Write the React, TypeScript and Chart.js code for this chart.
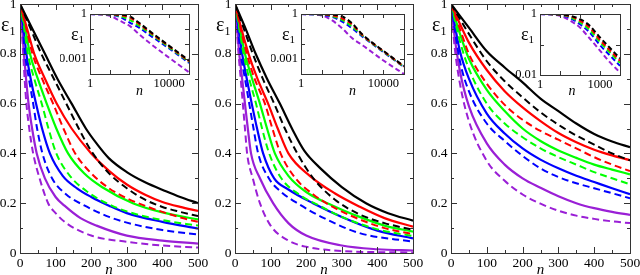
import React, { useEffect, useRef } from 'react';
import { Chart, registerables } from 'chart.js';

Chart.register(...registerables);

const SERIF = '"Liberation Serif", "DejaVu Serif", "Times New Roman", serif';

type Pt = [number, number];

// ---------- tick values ----------
const MAIN_X_TICKS = [0, 50, 100, 150, 200, 250, 300, 350, 400, 450, 500];
const MAIN_X_LABELLED = [0, 100, 200, 300, 400, 500];
const MAIN_Y_TICKS = [0, 0.1, 0.2, 0.3, 0.4, 0.5, 0.6, 0.7, 0.8, 0.9, 1];
const MAIN_Y_LABELLED = [0, 0.2, 0.4, 0.6, 0.8, 1];

const INSET_AB_X_TICKS = [1, 10, 100, 1000, 10000, 100000];
const INSET_AB_X_LABELLED = [1, 10000];
const INSET_AB_Y_TICKS = [0.0001, 0.001, 0.01, 0.1, 1];
const INSET_AB_Y_LABELLED = [0.001, 1];

const INSET_C_X_TICKS = [1, 10, 100, 1000, 10000];
const INSET_C_X_LABELLED = [1, 1000];
const INSET_C_Y_TICKS = [0.01, 0.1, 1];
const INSET_C_Y_LABELLED = [0.01, 1];

// ---------- panel 1 (main) ----------
const p1BlackSolid: Pt[] = [[0, 1], [35, 0.9], [70, 0.8], [105, 0.7], [145, 0.6], [185, 0.5], [215, 0.44], [250, 0.38], [300, 0.325], [350, 0.285], [410, 0.248], [450, 0.225], [500, 0.2]];
const p1BlackDashed: Pt[] = [[0, 1], [30, 0.9], [60, 0.8], [95, 0.7], [130, 0.6], [165, 0.5], [200, 0.41], [250, 0.32], [300, 0.26], [350, 0.215], [400, 0.185], [450, 0.165], [500, 0.148]];
const p1RedSolid: Pt[] = [[0, 1], [20, 0.9], [40, 0.8], [70, 0.7], [103, 0.6], [145, 0.5], [200, 0.4], [250, 0.33], [300, 0.275], [350, 0.235], [400, 0.205], [450, 0.185], [500, 0.169]];
const p1RedDashed: Pt[] = [[0, 1], [18, 0.9], [35, 0.8], [62, 0.7], [93, 0.6], [122, 0.5], [155, 0.4], [200, 0.32], [250, 0.26], [300, 0.22], [350, 0.19], [400, 0.165], [450, 0.143], [500, 0.125]];
const p1GreenSolid: Pt[] = [[0, 1], [15, 0.9], [28, 0.8], [50, 0.7], [75, 0.6], [102, 0.5], [135, 0.4], [180, 0.32], [230, 0.265], [317, 0.2], [400, 0.163], [500, 0.135]];
const p1GreenDashed: Pt[] = [[0, 1], [12, 0.9], [22, 0.8], [40, 0.7], [61, 0.6], [80, 0.5], [102, 0.4], [140, 0.31], [190, 0.245], [243, 0.2], [300, 0.167], [400, 0.132], [500, 0.11]];
const p1BlueSolid: Pt[] = [[0, 1], [10, 0.9], [18, 0.8], [30, 0.7], [45, 0.6], [62, 0.5], [84, 0.4], [120, 0.31], [160, 0.26], [200, 0.225], [250, 0.19], [300, 0.16], [400, 0.125], [500, 0.098]];
const p1BlueDashed: Pt[] = [[0, 1], [8, 0.9], [14, 0.8], [25, 0.7], [37, 0.6], [48, 0.5], [63, 0.4], [90, 0.3], [130, 0.235], [182, 0.19], [250, 0.145], [300, 0.122], [400, 0.092], [500, 0.074]];
const p1PurpleSolid: Pt[] = [[0, 1], [6, 0.9], [11, 0.8], [17, 0.7], [24, 0.6], [34, 0.5], [47, 0.4], [70, 0.3], [100, 0.225], [125, 0.19], [170, 0.14], [215, 0.11], [300, 0.07], [400, 0.05], [500, 0.038]];
const p1PurpleDashed: Pt[] = [[0, 1], [5, 0.9], [9, 0.8], [13, 0.7], [18, 0.6], [26, 0.5], [37, 0.4], [55, 0.3], [79, 0.2], [100, 0.16], [130, 0.12], [200, 0.07], [300, 0.045], [400, 0.03], [500, 0.022]];

// ---------- panel 2 (main) ----------
const p2BlackSolid: Pt[] = [[0, 1], [30, 0.9], [58, 0.8], [90, 0.7], [126, 0.6], [160, 0.5], [195, 0.41], [240, 0.34], [300, 0.265], [368, 0.2], [430, 0.16], [500, 0.13]];
const p2BlackDashed: Pt[] = [[0, 1], [25, 0.9], [50, 0.8], [78, 0.7], [110, 0.6], [140, 0.5], [175, 0.4], [220, 0.3], [280, 0.215], [350, 0.155], [420, 0.12], [500, 0.093]];
const p2RedSolid: Pt[] = [[0, 1], [18, 0.9], [38, 0.8], [63, 0.7], [93, 0.6], [120, 0.5], [150, 0.4], [210, 0.31], [280, 0.24], [350, 0.186], [420, 0.14], [500, 0.106]];
const p2RedDashed: Pt[] = [[0, 1], [16, 0.9], [33, 0.8], [55, 0.7], [84, 0.6], [105, 0.5], [128, 0.4], [170, 0.3], [220, 0.235], [275, 0.185], [350, 0.135], [420, 0.1], [500, 0.076]];
const p2GreenSolid: Pt[] = [[0, 1], [14, 0.9], [28, 0.8], [48, 0.7], [70, 0.6], [90, 0.5], [112, 0.4], [150, 0.31], [200, 0.245], [275, 0.19], [350, 0.145], [420, 0.11], [500, 0.086]];
const p2GreenDashed: Pt[] = [[0, 1], [12, 0.9], [24, 0.8], [40, 0.7], [59, 0.6], [76, 0.5], [96, 0.4], [130, 0.3], [180, 0.235], [237, 0.19], [300, 0.145], [400, 0.095], [500, 0.068]];
const p2BlueSolid: Pt[] = [[0, 1], [10, 0.9], [20, 0.8], [33, 0.7], [47, 0.6], [62, 0.5], [79, 0.4], [110, 0.3], [150, 0.255], [219, 0.2], [300, 0.145], [400, 0.09], [500, 0.059]];
const p2BlueDashed: Pt[] = [[0, 1], [8, 0.9], [16, 0.8], [28, 0.7], [40, 0.6], [52, 0.5], [65, 0.4], [95, 0.3], [130, 0.245], [181, 0.195], [250, 0.14], [350, 0.08], [500, 0.045]];
const p2PurpleSolid: Pt[] = [[0, 1], [6, 0.9], [12, 0.8], [20, 0.7], [28, 0.6], [36, 0.5], [45, 0.4], [70, 0.3], [107, 0.2], [150, 0.12], [200, 0.07], [300, 0.03], [400, 0.015], [500, 0.01]];
const p2PurpleDashed: Pt[] = [[0, 1], [5, 0.9], [10, 0.8], [16, 0.7], [22, 0.6], [28, 0.5], [34, 0.4], [50, 0.3], [70, 0.2], [100, 0.11], [150, 0.05], [200, 0.025], [300, 0.008], [500, 0.002]];

// ---------- panel 3 (main) ----------
const p3BlackSolid: Pt[] = [[0, 1], [50, 0.905], [100, 0.81], [150, 0.745], [200, 0.685], [250, 0.62], [300, 0.57], [350, 0.52], [400, 0.478], [450, 0.448], [500, 0.425]];
const p3BlackDashed: Pt[] = [[0, 1], [50, 0.88], [100, 0.77], [150, 0.69], [200, 0.625], [250, 0.565], [300, 0.515], [350, 0.472], [400, 0.435], [450, 0.4], [500, 0.372]];
const p3RedSolid: Pt[] = [[0, 1], [25, 0.92], [50, 0.845], [100, 0.735], [150, 0.65], [200, 0.585], [250, 0.53], [300, 0.482], [350, 0.445], [400, 0.415], [450, 0.392], [500, 0.373]];
const p3RedDashed: Pt[] = [[0, 1], [25, 0.9], [50, 0.8], [100, 0.68], [150, 0.595], [200, 0.535], [250, 0.49], [300, 0.455], [350, 0.42], [400, 0.385], [450, 0.355], [500, 0.329]];
const p3GreenSolid: Pt[] = [[0, 1], [25, 0.88], [50, 0.78], [100, 0.655], [150, 0.57], [200, 0.5], [250, 0.45], [300, 0.412], [350, 0.382], [400, 0.355], [450, 0.335], [500, 0.316]];
const p3GreenDashed: Pt[] = [[0, 1], [25, 0.85], [50, 0.74], [100, 0.6], [150, 0.52], [200, 0.465], [250, 0.42], [300, 0.385], [350, 0.355], [400, 0.325], [450, 0.3], [500, 0.276]];
const p3BlueSolid: Pt[] = [[0, 1], [25, 0.81], [50, 0.7], [100, 0.56], [150, 0.48], [200, 0.42], [250, 0.375], [300, 0.34], [350, 0.31], [400, 0.285], [450, 0.26], [500, 0.236]];
const p3BlueDashed: Pt[] = [[0, 1], [25, 0.77], [50, 0.65], [100, 0.52], [150, 0.45], [200, 0.39], [250, 0.34], [300, 0.305], [350, 0.28], [400, 0.26], [450, 0.24], [500, 0.22]];
const p3PurpleSolid: Pt[] = [[0, 1], [10, 0.87], [25, 0.73], [50, 0.59], [100, 0.44], [150, 0.355], [200, 0.3], [250, 0.262], [300, 0.228], [350, 0.2], [400, 0.18], [450, 0.165], [500, 0.153]];
const p3PurpleDashed: Pt[] = [[0, 1], [10, 0.83], [25, 0.68], [50, 0.53], [100, 0.37], [150, 0.29], [200, 0.235], [250, 0.198], [300, 0.17], [350, 0.15], [400, 0.137], [450, 0.127], [500, 0.12]];

// ---------- insets (log-log, dashed) ----------
const i1Black: Pt[] = [[1, 1], [10, 0.98], [30, 0.91], [100, 0.7], [300, 0.26], [1000, 0.075], [10000, 0.0075], [100000, 0.0008]];
const i1Red: Pt[] = [[1, 1], [10, 0.95], [30, 0.84], [100, 0.57], [300, 0.22], [1000, 0.065], [10000, 0.0068], [100000, 0.0007]];
const i1Green: Pt[] = [[1, 1], [10, 0.93], [30, 0.75], [100, 0.41], [300, 0.167], [1000, 0.055], [10000, 0.006], [100000, 0.00065]];
const i1Blue: Pt[] = [[1, 1], [10, 0.88], [30, 0.67], [100, 0.27], [300, 0.122], [1000, 0.04], [10000, 0.005], [100000, 0.00055]];
const i1Purple: Pt[] = [[1, 1], [10, 0.77], [30, 0.37], [100, 0.16], [300, 0.045], [1000, 0.012], [10000, 0.0012], [100000, 0.00013]];

const i2Black: Pt[] = [[1, 1], [10, 0.98], [30, 0.91], [100, 0.68], [300, 0.24], [1000, 0.04], [10000, 0.0035], [100000, 0.00033]];
const i2Red: Pt[] = [[1, 1], [10, 0.95], [30, 0.84], [100, 0.5], [300, 0.2], [1000, 0.037], [10000, 0.0033], [100000, 0.00031]];
const i2Green: Pt[] = [[1, 1], [10, 0.93], [30, 0.75], [100, 0.4], [300, 0.15], [1000, 0.034], [10000, 0.0031], [100000, 0.0003]];
const i2Blue: Pt[] = [[1, 1], [10, 0.88], [30, 0.67], [100, 0.31], [300, 0.11], [1000, 0.03], [10000, 0.0029], [100000, 0.00029]];
const i2Purple: Pt[] = [[1, 1], [10, 0.8], [30, 0.4], [100, 0.11], [300, 0.025], [1000, 0.008], [10000, 0.0008], [100000, 0.0001]];

const i3Black: Pt[] = [[1, 1], [10, 0.97], [30, 0.88], [100, 0.68], [300, 0.42], [1000, 0.17], [3000, 0.08], [10000, 0.035]];
const i3Red: Pt[] = [[1, 1], [10, 0.96], [30, 0.85], [100, 0.6], [300, 0.36], [1000, 0.14], [3000, 0.066], [10000, 0.029]];
const i3Green: Pt[] = [[1, 1], [10, 0.95], [30, 0.8], [100, 0.53], [300, 0.3], [1000, 0.12], [3000, 0.056], [10000, 0.025]];
const i3Blue: Pt[] = [[1, 1], [10, 0.93], [30, 0.75], [100, 0.46], [300, 0.25], [1000, 0.095], [3000, 0.045], [10000, 0.02]];
const i3Purple: Pt[] = [[1, 1], [10, 0.88], [30, 0.62], [100, 0.36], [300, 0.16], [1000, 0.063], [3000, 0.027], [10000, 0.012]];

// ---------- styling ----------
const BLACK = '#000000';
const RED = '#ff0000';
const GREEN = '#00ff00';
const BLUE = '#0000ff';
const PURPLE = '#9a1fd6';

function line(points: Pt[], color: string, dashed: boolean, width: number, dash: number[] = [7, 4]) {
  return {
    data: points.map(([x, y]) => ({ x, y })),
    borderColor: color,
    backgroundColor: color,
    borderWidth: width,
    borderDash: dashed ? dash : [],
    pointRadius: 0,
    pointHoverRadius: 0,
    fill: false,
    cubicInterpolationMode: 'monotone',
  };
}

function mainDatasets(s: Pt[][]) {
  // s = [blackS, blackD, redS, redD, greenS, greenD, blueS, blueD, purpleS, purpleD]
  const cols = [BLACK, RED, GREEN, BLUE, PURPLE];
  const dashed = cols.map((c, i) => line(s[i * 2 + 1], c, true, 2));
  const solid = cols.map((c, i) => line(s[i * 2], c, false, 2.2));
  // first dataset is drawn last (on top)
  return [...dashed, ...solid];
}

function insetDatasets(s: Pt[][]) {
  const cols = [BLACK, RED, GREEN, BLUE, PURPLE];
  return cols.map((c, i) => line(s[i], c, true, 2, [5, 3]));
}

const frameTicks = {
  id: 'frameTicks',
  beforeDraw(chart: any, _a: any, o: any) {
    if (!o.bg) return;
    const { left, top, right, bottom } = chart.chartArea;
    const ctx = chart.ctx;
    ctx.save();
    ctx.fillStyle = '#ffffff';
    ctx.fillRect(left, top, right - left, bottom - top);
    ctx.restore();
  },
  afterDraw(chart: any, _a: any, o: any) {
    const ctx = chart.ctx;
    const { left, top, right, bottom } = chart.chartArea;
    const xs = chart.scales.x;
    const ys = chart.scales.y;
    ctx.save();
    ctx.strokeStyle = '#333333';
    ctx.lineWidth = 1;
    ctx.beginPath();
    xs.ticks.forEach((t: any) => {
      const px = Math.round(xs.getPixelForValue(t.value)) + 0.5;
      const len = o.xMajor.includes(t.value) ? o.major : o.minor;
      ctx.moveTo(px, bottom);
      ctx.lineTo(px, bottom - len);
      ctx.moveTo(px, top);
      ctx.lineTo(px, top + len);
    });
    ys.ticks.forEach((t: any) => {
      const py = Math.round(ys.getPixelForValue(t.value)) + 0.5;
      const len = o.yMajor.includes(t.value) ? o.major : o.minor;
      ctx.moveTo(left, py);
      ctx.lineTo(left + len, py);
      ctx.moveTo(right, py);
      ctx.lineTo(right - len, py);
    });
    ctx.stroke();
    ctx.strokeRect(Math.round(left) + 0.5, Math.round(top) + 0.5, Math.round(right - left), Math.round(bottom - top));
    // axis titles
    ctx.fillStyle = '#000000';
    ctx.textBaseline = 'alphabetic';
    ctx.textAlign = 'center';
    ctx.font = `italic ${o.nFont}px ${SERIF}`;
    ctx.fillText('n', o.nX ?? (left + right) / 2, o.nY);
    ctx.textAlign = 'left';
    ctx.font = `${o.epsFont}px ${SERIF}`;
    ctx.fillText('ε', o.epsX, o.epsY);
    const w = ctx.measureText('ε').width;
    ctx.font = `${o.subFont}px ${SERIF}`;
    ctx.fillText('1', o.epsX + w, o.epsY + o.subDrop);
    ctx.restore();
  },
};

interface Spec {
  datasets: any[];
  log: boolean;
  xMin: number; xMax: number; yMin: number; yMax: number;
  xTicks: number[]; xLab: number[]; yTicks: number[]; yLab: number[];
  l: number; r: number; t: number; b: number;
  yW: number; xH: number; font: number; yPad: number; xPad: number;
  major: number; minor: number; bg: boolean;
  nX?: number; nY: number; nFont: number;
  epsX: number; epsY: number; epsFont: number; subFont: number; subDrop: number;
}

function makeConfig(p: Spec): any {
  const type = p.log ? 'logarithmic' : 'linear';
  const tickFont = { family: SERIF, size: p.font };
  return {
    type: 'line',
    data: { datasets: p.datasets },
    plugins: [frameTicks],
    options: {
      animation: false,
      responsive: false,
      devicePixelRatio: 1,
      events: [],
      layout: {
        padding: { left: p.l - p.yW, right: 640 - p.r, top: p.t, bottom: 275 - p.b - p.xH },
      },
      plugins: {
        legend: { display: false },
        tooltip: { enabled: false },
        frameTicks: {
          bg: p.bg, xMajor: p.xLab, yMajor: p.yLab, major: p.major, minor: p.minor,
          nX: p.nX, nY: p.nY, nFont: p.nFont,
          epsX: p.epsX, epsY: p.epsY, epsFont: p.epsFont, subFont: p.subFont, subDrop: p.subDrop,
        },
      },
      scales: {
        x: {
          type, min: p.xMin, max: p.xMax, position: 'bottom',
          grid: { display: false, drawTicks: false },
          border: { display: false },
          afterBuildTicks: (s: any) => { s.ticks = p.xTicks.map((v) => ({ value: v })); },
          afterFit: (s: any) => { s.height = p.xH; s.paddingLeft = 0; s.paddingRight = 0; },
          ticks: {
            autoSkip: false, maxRotation: 0, minRotation: 0, padding: p.xPad,
            font: tickFont, color: '#000000',
            callback: (v: number) => (p.xLab.includes(v) ? String(v) : ''),
          },
        },
        y: {
          type, min: p.yMin, max: p.yMax, position: 'left',
          grid: { display: false, drawTicks: false },
          border: { display: false },
          afterBuildTicks: (s: any) => { s.ticks = p.yTicks.map((v) => ({ value: v })); },
          afterFit: (s: any) => { s.width = p.yW; s.paddingTop = 0; s.paddingBottom = 0; },
          ticks: {
            autoSkip: false, padding: p.yPad,
            font: tickFont, color: '#000000',
            callback: (v: number) => (p.yLab.includes(v) ? String(v) : ''),
          },
        },
      },
    },
  };
}

const MAIN_T = 4;
const MAIN_B = 253;

function mainSpec(series: Pt[][], l: number, r: number): Spec {
  return {
    datasets: mainDatasets(series), log: false,
    xMin: 0, xMax: 500, yMin: 0, yMax: 1,
    xTicks: MAIN_X_TICKS, xLab: MAIN_X_LABELLED, yTicks: MAIN_Y_TICKS, yLab: MAIN_Y_LABELLED,
    l, r, t: MAIN_T, b: MAIN_B, yW: 20, xH: 22, font: 13.5, yPad: 3.5, xPad: 2,
    major: 6, minor: 3, bg: false,
    nY: 274, nFont: 15,
    epsX: l - 19, epsY: 31, epsFont: 20, subFont: 12, subDrop: 4,
  };
}

function insetSpec(series: Pt[][], l: number, r: number, b: number, ab: boolean, nX?: number): Spec {
  return {
    datasets: insetDatasets(series), log: true,
    xMin: 1, xMax: ab ? 100000 : 10000, yMin: ab ? 0.0001 : 0.01, yMax: 1,
    xTicks: ab ? INSET_AB_X_TICKS : INSET_C_X_TICKS,
    xLab: ab ? INSET_AB_X_LABELLED : INSET_C_X_LABELLED,
    yTicks: ab ? INSET_AB_Y_TICKS : INSET_C_Y_TICKS,
    yLab: ab ? INSET_AB_Y_LABELLED : INSET_C_Y_LABELLED,
    l, r, t: 14, b, yW: 30, xH: 20, font: 12.5, yPad: 3, xPad: 2,
    major: 4, minor: 4, bg: true,
    nX, nY: 95, nFont: 14,
    epsX: l - 19, epsY: 40, epsFont: 18, subFont: 11, subDrop: 3,
  };
}

const SPECS: Spec[] = [
  mainSpec([p1BlackSolid, p1BlackDashed, p1RedSolid, p1RedDashed, p1GreenSolid, p1GreenDashed, p1BlueSolid, p1BlueDashed, p1PurpleSolid, p1PurpleDashed], 20, 198),
  mainSpec([p2BlackSolid, p2BlackDashed, p2RedSolid, p2RedDashed, p2GreenSolid, p2GreenDashed, p2BlueSolid, p2BlueDashed, p2PurpleSolid, p2PurpleDashed], 235, 413),
  mainSpec([p3BlackSolid, p3BlackDashed, p3RedSolid, p3RedDashed, p3GreenSolid, p3GreenDashed, p3BlueSolid, p3BlueDashed, p3PurpleSolid, p3PurpleDashed], 451, 630),
  insetSpec([i1Black, i1Red, i1Green, i1Blue, i1Purple], 90, 189, 74, true),
  insetSpec([i2Black, i2Red, i2Green, i2Blue, i2Purple], 301, 404, 74, true),
  insetSpec([i3Black, i3Red, i3Green, i3Blue, i3Purple], 540, 620, 75, false, 572),
];

function Panel({ spec }: { spec: Spec }) {
  const ref = useRef<HTMLCanvasElement | null>(null);
  useEffect(() => {
    if (!ref.current) return;
    const chart = new Chart(ref.current, makeConfig(spec));
    return () => chart.destroy();
  }, [spec]);
  return (
    <canvas
      ref={ref}
      width={640}
      height={275}
      style={{ position: 'absolute', left: 0, top: 0, width: 640, height: 275 }}
    />
  );
}

export default function App() {
  return (
    <div style={{ position: 'absolute', left: 0, top: 0, width: 640, height: 275, background: '#ffffff', overflow: 'hidden' }}>
      {SPECS.map((s, i) => (
        <Panel key={i} spec={s} />
      ))}
    </div>
  );
}
